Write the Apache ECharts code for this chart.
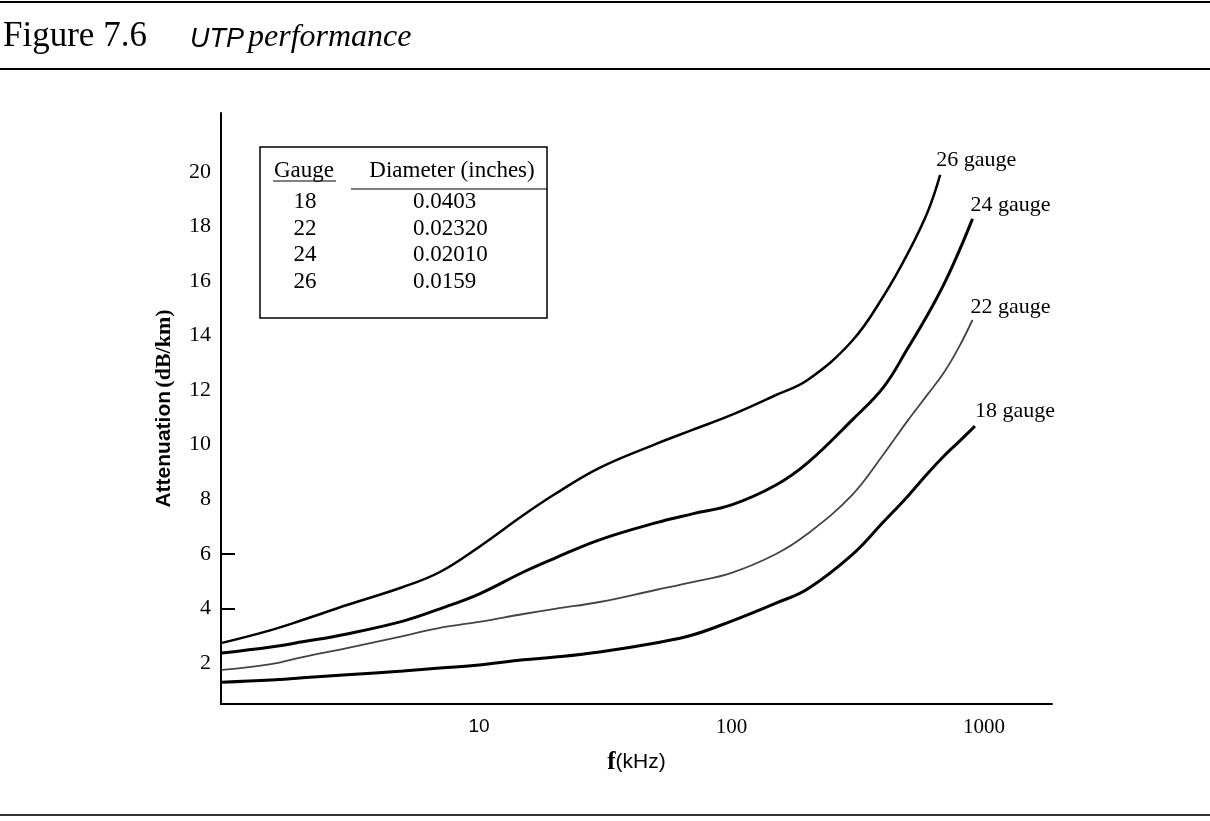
<!DOCTYPE html>
<html>
<head>
<meta charset="utf-8">
<script src="https://cdn.jsdelivr.net/npm/echarts@6/dist/echarts.min.js"></script>
<style>
html,body{margin:0;padding:0;background:#fff;}
#chart{width:1210px;height:821px;}
</style>
</head>
<body>
<div id="chart"></div>
<script>
// ---- data (frequency in kHz, attenuation in dB/km) ----
var freq26 = [0.96, 1.5, 2, 3, 5, 7, 10, 15, 20, 30, 50, 70, 100, 150, 200, 300, 400, 500, 600, 670];
var att26  = [2.73, 3.20, 3.57, 4.12, 4.78, 5.33, 6.25, 7.42, 8.19, 9.15, 10.02, 10.54, 11.09, 11.82, 12.37, 13.80, 15.45, 17.03, 18.57, 19.89];

var freq24 = [0.96, 1.5, 2, 3, 5, 7, 10, 15, 20, 30, 50, 70, 100, 150, 200, 300, 400, 500, 600, 700, 800, 900];
var att24  = [2.36, 2.58, 2.77, 3.06, 3.53, 3.98, 4.52, 5.33, 5.84, 6.51, 7.13, 7.46, 7.79, 8.52, 9.33, 10.90, 12.11, 13.55, 14.79, 15.96, 17.14, 18.28];

var freq22 = [0.96, 1.5, 2, 3, 5, 7, 10, 15, 20, 30, 50, 70, 100, 150, 200, 300, 400, 500, 600, 700, 800, 900];
var att22  = [1.74, 1.95, 2.21, 2.54, 2.98, 3.28, 3.50, 3.79, 3.98, 4.23, 4.67, 4.96, 5.30, 5.99, 6.73, 8.15, 9.65, 10.90, 11.86, 12.70, 13.62, 14.57];

var freq18 = [0.96, 1.5, 2, 3, 5, 7, 10, 15, 20, 30, 50, 70, 100, 150, 200, 300, 400, 500, 600, 700, 800, 920];
var att18  = [1.29, 1.37, 1.45, 1.56, 1.70, 1.81, 1.92, 2.11, 2.21, 2.40, 2.73, 3.02, 3.53, 4.19, 4.71, 5.96, 7.17, 8.12, 8.96, 9.62, 10.13, 10.68];

var yTickLabels = [2, 4, 6, 8, 10, 12, 14, 16, 18, 20];
var yTickMarks = [4, 6];
var xTickLabels = [10, 100, 1000];

var tableGauges = ['18', '22', '24', '26'];
var tableDiameters = ['0.0403', '0.02320', '0.02010', '0.0159'];

// ---- chart ----
function pairs(xs, ys) { return xs.map(function (x, i) { return [x, ys[i]]; }); }

var serif = '"Liberation Serif", "Times New Roman", serif';
var sans = '"Liberation Sans", Arial, sans-serif';

var chart = echarts.init(document.getElementById('chart'));

function lineSeries(name, xs, ys, width, color, label, offset) {
  return {
    name: name,
    type: 'line',
    data: pairs(xs, ys),
    smooth: 0.4,
    showSymbol: false,
    symbol: 'none',
    animation: false,
    lineStyle: { color: color, width: width },
    endLabel: {
      show: true,
      formatter: label,
      fontFamily: serif,
      fontSize: 22,
      color: '#000',
      offset: offset
    },
    z: 3
  };
}

var tableGraphics = [];
tableGraphics.push({ type: 'rect', shape: { x: 260, y: 147, width: 287, height: 171 },
  style: { fill: 'none', stroke: '#000', lineWidth: 1.5 } });
tableGraphics.push({ type: 'text', x: 304, y: 171,
  style: { text: 'Gauge', font: '23px ' + serif, fill: '#000', textAlign: 'center', textVerticalAlign: 'middle' } });
tableGraphics.push({ type: 'line', shape: { x1: 273, y1: 181, x2: 336, y2: 181 }, style: { stroke: '#000', lineWidth: 1.2 } });
tableGraphics.push({ type: 'text', x: 452, y: 171,
  style: { text: 'Diameter (inches)', font: '23px ' + serif, fill: '#000', textAlign: 'center', textVerticalAlign: 'middle' } });
tableGraphics.push({ type: 'line', shape: { x1: 351, y1: 189, x2: 547, y2: 189 }, style: { stroke: '#000', lineWidth: 1.2 } });
var rowY = [202, 229, 255, 282];
tableGauges.forEach(function (g, i) {
  tableGraphics.push({ type: 'text', x: 305, y: rowY[i],
    style: { text: g, font: '23px ' + serif, fill: '#000', textAlign: 'center', textVerticalAlign: 'middle' } });
  tableGraphics.push({ type: 'text', x: 413, y: rowY[i],
    style: { text: tableDiameters[i], font: '23px ' + serif, fill: '#000', textAlign: 'left', textVerticalAlign: 'middle' } });
});

var option = {
  backgroundColor: '#fff',
  animation: false,
  grid: { left: 221, right: 158, top: 113, bottom: 117, containLabel: false, outerBoundsMode: 'none' },
  xAxis: {
    type: 'log',
    logBase: 10,
    min: 0.951,
    max: 1858,
    name: '{f|f}{u|(kHz)}',
    nameLocation: 'middle',
    nameGap: 46,
    nameTextStyle: {
      rich: {
        f: { fontFamily: serif, fontWeight: 'bold', fontSize: 25, color: '#000' },
        u: { fontFamily: sans, fontSize: 21, color: '#000' }
      }
    },
    axisLine: { show: true, lineStyle: { color: '#000', width: 2 } },
    axisTick: { show: false },
    splitLine: { show: false },
    minorTick: { show: false },
    axisLabel: {
      customValues: xTickLabels,
      margin: 13,
      formatter: function (v) { return v === 10 ? '{s|10}' : '{r|' + v + '}'; },
      rich: {
        s: { fontFamily: sans, fontSize: 19, color: '#000' },
        r: { fontFamily: serif, fontSize: 21, color: '#000' }
      }
    }
  },
  yAxis: {
    type: 'value',
    min: 0.49,
    max: 22.16,
    name: '{a|Attenuation} {b|(dB/km)}',
    nameLocation: 'middle',
    nameRotate: 90,
    nameGap: 46,
    nameTextStyle: {
      rich: {
        a: { fontFamily: sans, fontWeight: 'bold', fontSize: 21, color: '#000' },
        b: { fontFamily: serif, fontWeight: 'bold', fontSize: 22, color: '#000' }
      }
    },
    axisLine: { show: true, lineStyle: { color: '#000', width: 2 } },
    axisTick: { show: true, inside: true, length: 14, customValues: yTickMarks, lineStyle: { color: '#000', width: 2 } },
    splitLine: { show: false },
    axisLabel: {
      customValues: yTickLabels,
      margin: 10,
      fontFamily: serif,
      fontSize: 22,
      color: '#000'
    }
  },
  series: [
    lineSeries('26 gauge', freq26, att26, 2.5, '#000', '26 gauge', [-12, -15]),
    lineSeries('24 gauge', freq24, att24, 3, '#000', '24 gauge', [-10, -14]),
    lineSeries('22 gauge', freq22, att22, 1.8, '#444', '22 gauge', [-10, -13]),
    lineSeries('18 gauge', freq18, att18, 3, '#000', '18 gauge', [-8, -15])
  ],
  graphic: [
    { type: 'line', shape: { x1: 0, y1: 2, x2: 1210, y2: 2 }, style: { stroke: '#000', lineWidth: 2 } },
    { type: 'line', shape: { x1: 0, y1: 69, x2: 1210, y2: 69 }, style: { stroke: '#000', lineWidth: 2 } },
    { type: 'line', shape: { x1: 0, y1: 815, x2: 1210, y2: 815 }, style: { stroke: '#333', lineWidth: 2 } },
    { type: 'text', x: 3, y: 37,
      style: { text: 'Figure 7.6', font: '35px ' + serif, fill: '#000', textAlign: 'left', textVerticalAlign: 'middle' } },
    { type: 'text', x: 190, y: 39,
      style: { text: 'UTP', font: 'italic 27px ' + sans, fill: '#000', textAlign: 'left', textVerticalAlign: 'middle' } },
    { type: 'text', x: 248, y: 38,
      style: { text: 'performance', font: 'italic 32px ' + serif, fill: '#000', textAlign: 'left', textVerticalAlign: 'middle' } }
  ].concat(tableGraphics)
};

chart.setOption(option);
</script>
</body>
</html>
